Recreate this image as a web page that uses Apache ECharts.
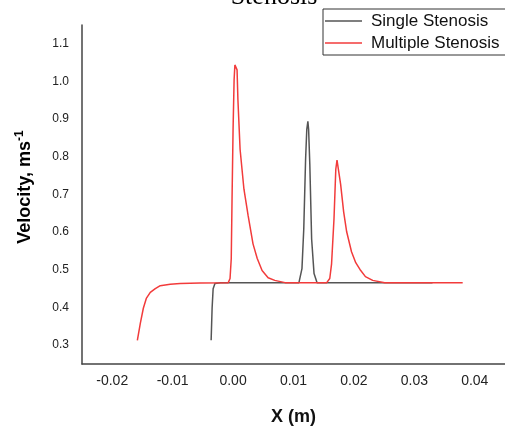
<!DOCTYPE html>
<html>
<head>
    <meta charset="utf-8">
    <title>Stenosis</title>
    <script src="https://cdn.jsdelivr.net/npm/echarts@6/dist/echarts.min.js"></script>
</head>
<body style="margin:0">
<div id="main" style="width:505px;height:431px;"></div>
<script type="text/javascript">
    // single stenosis, x (m) and velocity (m/s)
    var singleX = [-0.00363, -0.00347, -0.0033, -0.003, -0.0021, 0.0109, 0.0114, 0.0117, 0.0120, 0.0122, 0.01238,
        0.0125, 0.0127, 0.0130, 0.0134, 0.0139, 0.033];
    var singleY = [0.313, 0.398, 0.450, 0.4636, 0.466, 0.466, 0.503, 0.609, 0.793, 0.873, 0.894,
        0.873, 0.780, 0.582, 0.490, 0.466, 0.466];

    // multiple stenosis
    var multiX = [-0.01584, -0.01535, -0.01485, -0.01436, -0.0137, -0.01287, -0.01205, -0.0104, -0.00875, -0.00545,
        -0.0008, -0.0005, -0.0003, -0.00017, 0.0, 0.00017, 0.0003, 0.0005, 0.00066, 0.0008, 0.00116, 0.0018,
        0.0025, 0.0033, 0.0040, 0.0048, 0.0058, 0.0069, 0.0086, 0.011, 0.0155, 0.0160, 0.0163, 0.0167, 0.0170,
        0.0172, 0.0173, 0.0175, 0.0178, 0.0183, 0.0188, 0.0196, 0.0203, 0.0210, 0.0219, 0.0231, 0.0251, 0.038];
    var multiY = [0.313, 0.358, 0.398, 0.424, 0.440, 0.450, 0.458, 0.462, 0.4636, 0.465,
        0.466, 0.477, 0.530, 0.688, 0.873, 1.004, 1.044, 1.049, 1.031, 0.952, 0.820, 0.714,
        0.643, 0.569, 0.530, 0.498, 0.479, 0.472, 0.466, 0.466, 0.466, 0.477, 0.516, 0.635, 0.767,
        0.791, 0.796, 0.788, 0.727, 0.654, 0.601, 0.548, 0.519, 0.501, 0.482, 0.472, 0.466, 0.466];

    var seriesNames = ['Single Stenosis', 'Multiple Stenosis'];

    function zip(xs, ys) {
        var out = [];
        for (var i = 0; i < xs.length; i++) {
            out.push([xs[i], ys[i]]);
        }
        return out;
    }

    // only label the round ticks
    function isStep(v, step) {
        var r = v / step;
        return Math.abs(r - Math.round(r)) < 1e-6;
    }

    var myChart = echarts.init(document.getElementById('main'));

    var option = {
        animation: false,
        grid: {left: 82, top: 25, right: 0, bottom: 64},
        legend: {
            orient: 'vertical',
            left: 323,
            top: 9,
            padding: [2, 20, 2, 2],
            itemGap: 2,
            itemWidth: 37,
            itemHeight: 1.5,
            icon: 'rect',
            borderColor: '#333',
            borderWidth: 1,
            textStyle: {fontFamily: 'Liberation Sans', fontSize: 17, color: '#111', lineHeight: 20, padding: [0, 0, 0, 4]},
            data: seriesNames
        },
        xAxis: {
            type: 'value',
            min: -0.025,
            max: 0.045,
            interval: 0.005,
            name: 'X (m)',
            nameLocation: 'middle',
            nameGap: 44,
            nameTextStyle: {fontFamily: 'Liberation Sans', fontSize: 18, fontWeight: 'bold', color: '#111'},
            axisLine: {show: true, onZero: false, lineStyle: {color: '#444', width: 1.5}},
            axisTick: {show: false},
            splitLine: {show: false},
            axisLabel: {
                margin: 10,
                fontFamily: 'Liberation Sans',
                fontSize: 14,
                color: '#222',
                showMinLabel: false,
                showMaxLabel: false,
                formatter: function (v) {
                    return isStep(v, 0.01) ? v.toFixed(2) : '';
                }
            }
        },
        yAxis: {
            type: 'value',
            min: 0.25,
            max: 1.15,
            interval: 0.05,
            axisLine: {show: true, onZero: false, lineStyle: {color: '#444', width: 1.5}},
            axisTick: {show: false},
            splitLine: {show: false},
            axisLabel: {
                margin: 13,
                fontFamily: 'Liberation Sans',
                fontSize: 12,
                color: '#222',
                showMinLabel: false,
                showMaxLabel: false,
                formatter: function (v) {
                    return isStep(v, 0.1) ? v.toFixed(1) : '';
                }
            }
        },
        graphic: [
            {
                type: 'text',
                x: 274,
                y: 10,
                style: {
                    text: 'Stenosis',
                    font: '26px "Liberation Serif"',
                    fill: '#000',
                    textAlign: 'center',
                    textVerticalAlign: 'bottom'
                }
            },
            {
                type: 'text',
                x: 25,
                y: 187,
                rotation: Math.PI / 2,
                style: {
                    text: '{a|Velocity, ms}{b|-1}',
                    textAlign: 'center',
                    textVerticalAlign: 'middle',
                    rich: {
                        a: {fontFamily: 'Liberation Sans', fontSize: 18, fontWeight: 'bold', color: '#111', lineHeight: 22},
                        b: {fontFamily: 'Liberation Sans', fontSize: 12, fontWeight: 'bold', color: '#111', verticalAlign: 'top', lineHeight: 12}
                    }
                }
            }
        ],
        series: [
            {
                name: seriesNames[0],
                type: 'line',
                symbol: 'none',
                lineStyle: {color: '#555', width: 1.5},
                itemStyle: {color: '#555'},
                data: zip(singleX, singleY)
            },
            {
                name: seriesNames[1],
                type: 'line',
                symbol: 'none',
                lineStyle: {color: '#f23b3b', width: 1.5},
                itemStyle: {color: '#f23b3b'},
                data: zip(multiX, multiY)
            }
        ]
    };

    myChart.setOption(option);
</script>
</body>
</html>
